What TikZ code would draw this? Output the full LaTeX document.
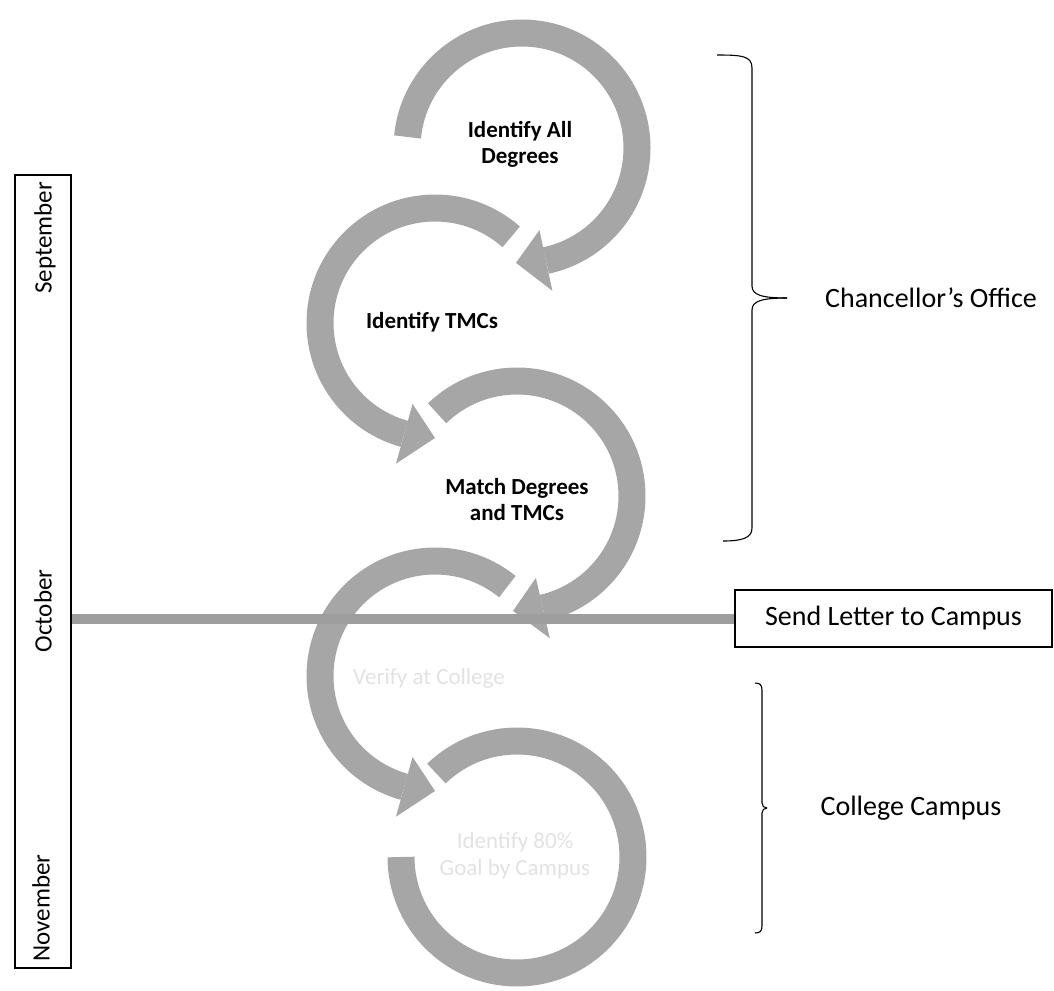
\documentclass[tikz,border=0pt]{standalone}
\usepackage{fontspec}
\setmainfont{Carlito}
\definecolor{ringgrey}{HTML}{A6A6A6}
\definecolor{linegrey}{HTML}{9E9E9E}
\definecolor{faint}{HTML}{E2E2E2}
\newcommand\fsz[2]{\fontsize{#1}{#2}\selectfont}
% ring arrow: cx, cy, start angle, end angle, tip angle, radius
\newcommand\ringarrow[6]{%
  \draw[ringline] ([shift={(#1,#2)}]#3:#6) arc[start angle=#3, end angle=#4, radius=#6];
  \fill[ringgrey] ([shift={(#1,#2)}]#4:{#6+31}) -- ([shift={(#1,#2)}]#5:#6) -- ([shift={(#1,#2)}]#4:{#6-31}) -- cycle;
}
\newcommand\ringopen[5]{%
  \draw[ringline] ([shift={(#1,#2)}]#3:#5) arc[start angle=#3, end angle=#4, radius=#5];
}
\tikzset{
  ringline/.style={draw=ringgrey, line width=27pt, line cap=butt},
  hline/.style={draw=linegrey, line width=10pt},
  brace/.style={draw=black, line width=1.1pt},
  boldlbl/.style={font=\bfseries\fsz{23}{26}, align=center, text=black},
  faintlbl/.style={font=\fsz{23}{27}, align=center, text=faint},
  sidelbl/.style={font=\fsz{28}{32}, text=black},
  monthlbl/.style={font=\fsz{25}{28}, rotate=90, text=black},
}
\begin{document}
\begin{tikzpicture}[x=1pt,y=1pt]
\useasboundingbox (0,0) rectangle (1054,-990);

% rings
\ringarrow{522}{-148}{174.5}{-78}{-93}{115}
\ringarrow{435}{-323}{48.5}{254.5}{270}{115}
\ringarrow{517}{-496}{134}{-77}{-92}{115}
\ringarrow{435}{-676}{51}{254.5}{270}{115}
\ringopen{517}{-857}{134}{-180}{116}

% ring labels
\node[boldlbl] (l1) at (520,-144) {Identify All\\Degrees};
\node[boldlbl] (l2) at (432,-322) {Identify TMCs};
\node[boldlbl] (l3) at (517,-500) {Match Degrees\\and TMCs};
\node[faintlbl] (l4) at (429,-678) {Verify at College};
\node[faintlbl] (l5) at (515,-856) {Identify 80\%\\Goal by Campus};

% month box
\node[draw, line width=1.2pt, minimum width=56pt, minimum height=793pt, inner sep=0pt] (mbox) at (43,-571.5) {};
\node[monthlbl] (sep) at (45,-238) {September};
\node[monthlbl] (oct) at (43,-611) {October};
\node[monthlbl] (nov) at (41,-908) {November};

% send letter box
\node[draw, line width=1.2pt, minimum width=317pt, minimum height=57pt, inner sep=0pt, sidelbl] (send) at (893.5,-618.5) {Send Letter to Campus};

% horizontal timeline
\draw[hline] (mbox.east |- send.west) -- (send.west);

% braces
\draw[brace] (717,-55) .. controls (742,-55) and (752,-56) .. (752,-68) -- (752,-286) .. controls (752,-295) and (762,-298) .. (787,-298);
\draw[brace] (787,-298) .. controls (762,-298) and (752,-301) .. (752,-310) -- (752,-528) .. controls (752,-538) and (742,-541) .. (723,-541);
\draw[brace] (755,-683) .. controls (760,-683) and (762,-685) .. (762,-690) -- (762,-803) .. controls (762,-806) and (764,-808) .. (767,-808);
\draw[brace] (767,-808) .. controls (764,-808) and (762,-810) .. (762,-813) -- (762,-926) .. controls (762,-931) and (760,-933) .. (755,-933);

\node[sidelbl] (co) at (931,-298) {Chancellor’s Office};
\node[sidelbl] (cc) at (911,-808) {College Campus};
\end{tikzpicture}
\end{document}
